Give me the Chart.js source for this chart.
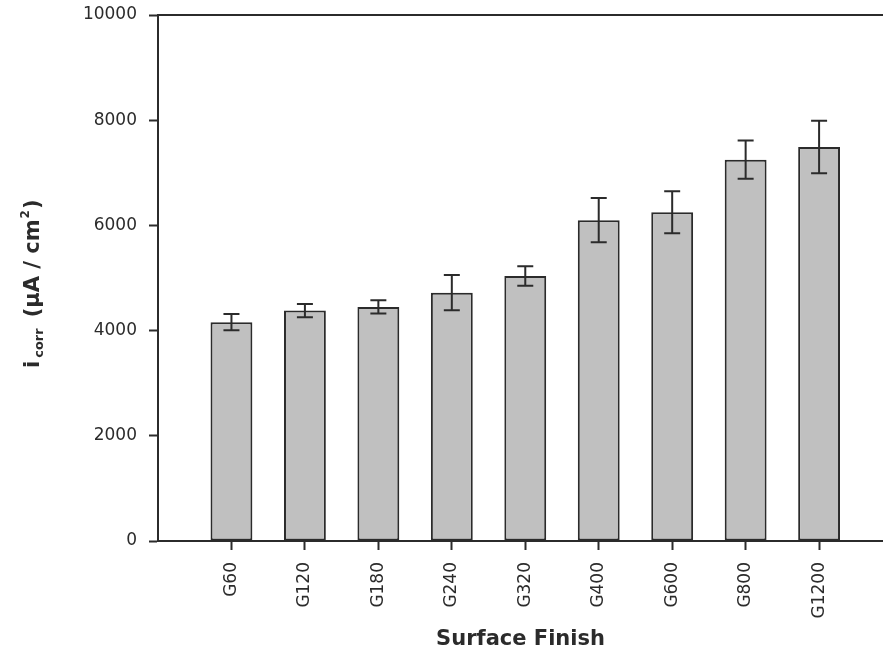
<!DOCTYPE html>
<html>
<head>
<meta charset="utf-8">
<script src="https://cdn.jsdelivr.net/npm/chart.js@4/dist/chart.umd.min.js"></script>
<style>
  html, body { margin: 0; padding: 0; background: #ffffff; }
  #wrap { width: 883px; height: 652px; position: relative; }
</style>
</head>
<body>
<div id="wrap"><canvas id="c"></canvas></div>
<script>
const categories = ['G60', 'G120', 'G180', 'G240', 'G320', 'G400', 'G600', 'G800', 'G1200'];
const icorrValues = [4160, 4380, 4450, 4720, 5040, 6100, 6250, 7250, 7490];
const icorrErrors = [155, 128, 127, 335, 185, 420, 400, 365, 500];
const yTicks = [0, 2000, 4000, 6000, 8000, 10000];
const xTitle = 'Surface Finish';

const INK = '#2b2b2b';

const errorBarPlugin = {
  id: 'errorBars',
  afterDatasetsDraw(chart) {
    const ctx = chart.ctx;
    const yScale = chart.scales.y;
    const meta = chart.getDatasetMeta(0);
    ctx.save();
    ctx.strokeStyle = INK;
    ctx.lineWidth = 2;
    meta.data.forEach((bar, i) => {
      const v = icorrValues[i], e = icorrErrors[i];
      const x = bar.x;
      const yTop = yScale.getPixelForValue(v + e);
      const yBot = yScale.getPixelForValue(v - e);
      const cap = 8;
      ctx.beginPath();
      ctx.moveTo(x, yTop); ctx.lineTo(x, yBot);
      ctx.moveTo(x - cap, yTop); ctx.lineTo(x + cap, yTop);
      ctx.moveTo(x - cap, yBot); ctx.lineTo(x + cap, yBot);
      ctx.stroke();
    });
    ctx.restore();
  }
};

const framePlugin = {
  id: 'frameTop',
  afterDraw(chart) {
    const ctx = chart.ctx;
    const a = chart.chartArea;
    ctx.save();
    ctx.strokeStyle = INK;
    ctx.lineWidth = 2;
    ctx.beginPath();
    ctx.moveTo(a.left - 1, a.top);
    ctx.lineTo(chart.width, a.top);
    ctx.stroke();

    // Y axis title with subscript and superscript
    const big = 'bold 21px "DejaVu Sans"';
    const sub = 'bold 13px "DejaVu Sans"';
    const sup = 'bold 12px "DejaVu Sans"';
    ctx.fillStyle = INK;
    ctx.translate(39, 368);
    ctx.rotate(-Math.PI / 2);
    ctx.textBaseline = 'alphabetic';
    ctx.textAlign = 'left';
    let x = 0;
    ctx.font = big; ctx.fillText('i', x, 0); x += ctx.measureText('i').width + 3;
    ctx.font = sub; ctx.fillText('corr', x, 4); x += ctx.measureText('corr').width + 11;
    ctx.font = big; ctx.fillText('(\u00B5A / cm', x, 0); x += ctx.measureText('(\u00B5A / cm').width + 1;
    ctx.font = sup; ctx.fillText('2', x, -10); x += ctx.measureText('2').width + 1;
    ctx.font = big; ctx.fillText(')', x, 0);
    ctx.restore();
  }
};

const points = categories.map((c, i) => ({ x: i + 1, y: icorrValues[i] }));

new Chart(document.getElementById('c'), {
  type: 'bar',
  data: {
    datasets: [{
      label: 'icorr',
      data: points,
      backgroundColor: '#c0c0c0',
      borderColor: INK,
      borderWidth: 2,
      borderSkipped: false,
      barPercentage: 0.57,
      categoryPercentage: 1.0
    }]
  },
  options: {
    responsive: true,
    maintainAspectRatio: false,
    animation: false,
    devicePixelRatio: 1,
    layout: { padding: { top: 15, right: 0, left: 0, bottom: 0 } },
    plugins: {
      legend: { display: false },
      tooltip: { enabled: false }
    },
    scales: {
      x: {
        type: 'linear',
        offset: false,
        min: 0,
        max: 9.87,
        afterBuildTicks(scale) {
          scale.ticks = categories.map((c, i) => ({ value: i + 1 }));
        },
        afterFit(scale) {
          scale.height = 111;
          scale.paddingLeft = 0; scale.paddingRight = 0;
          scale.paddingTop = 0; scale.paddingBottom = 0;
        },
        grid: {
          display: true,
          offset: false,
          drawOnChartArea: false,
          drawTicks: true,
          tickLength: 9,
          tickWidth: 2,
          tickColor: INK
        },
        border: { display: true, color: INK, width: 2 },
        ticks: {
          autoSkip: false,
          minRotation: 90,
          maxRotation: 90,
          padding: 12,
          color: INK,
          font: { family: '"DejaVu Sans"', size: 17 },
          callback: (v) => categories[v - 1] || ''
        },
        title: {
          display: true,
          text: xTitle,
          color: INK,
          padding: { top: 0, bottom: 0 },
          font: { family: '"DejaVu Sans"', size: 21, weight: 'bold' }
        }
      },
      y: {
        min: 0,
        max: 10000,
        afterBuildTicks(scale) {
          scale.ticks = yTicks.map(v => ({ value: v }));
        },
        afterFit(scale) {
          scale.width = 158;
          scale.paddingTop = 0; scale.paddingBottom = 0;
          scale.paddingLeft = 0; scale.paddingRight = 0;
        },
        grid: {
          display: true,
          drawOnChartArea: false,
          drawTicks: true,
          tickLength: 9,
          tickWidth: 2,
          tickColor: INK
        },
        border: { display: true, color: INK, width: 2 },
        ticks: {
          padding: 12,
          color: INK,
          font: { family: '"DejaVu Sans"', size: 17 },
          callback: (v) => String(v)
        }
      }
    }
  },
  plugins: [errorBarPlugin, framePlugin]
});
</script>
</body>
</html>
